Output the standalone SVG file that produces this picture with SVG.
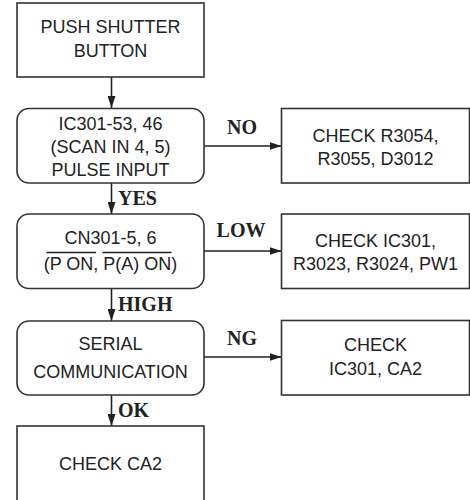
<svg xmlns="http://www.w3.org/2000/svg" width="470" height="500" viewBox="0 0 470 500">
<defs>
<style>
.box{fill:#fff;stroke:#333;stroke-width:1.6}
.t{font-family:"Liberation Sans",Arial,sans-serif;font-size:18px;fill:#222;text-anchor:middle}
.lbl{font-family:"Liberation Serif","Times New Roman",serif;font-size:20px;font-weight:bold;fill:#222}
.c{stroke:#222;stroke-width:1.6;fill:none}
.ol{stroke:#222;stroke-width:1.3}
</style>
<marker id="ah" viewBox="0 0 12 8" refX="12" refY="4" markerWidth="12" markerHeight="8" markerUnits="userSpaceOnUse" orient="auto">
<path d="M0,0 L12,4 L0,8 Z" fill="#222"/>
</marker>
</defs>
<rect width="470" height="500" fill="#fff"/>
<g id="connectors">
<line class="c" x1="111.5" y1="77" x2="111.5" y2="108" marker-end="url(#ah)"/>
<line class="c" x1="111.5" y1="183" x2="111.5" y2="214" marker-end="url(#ah)"/>
<line class="c" x1="111.5" y1="288" x2="111.5" y2="321" marker-end="url(#ah)"/>
<line class="c" x1="111.5" y1="395" x2="111.5" y2="426" marker-end="url(#ah)"/>
<line class="c" x1="204" y1="146" x2="281.5" y2="146" marker-end="url(#ah)"/>
<line class="c" x1="204" y1="251" x2="281.5" y2="251" marker-end="url(#ah)"/>
<line class="c" x1="204" y1="357" x2="281.5" y2="357" marker-end="url(#ah)"/>
<text class="lbl" x="118" y="205">YES</text>
<text class="lbl" x="118" y="311">HIGH</text>
<text class="lbl" x="118" y="417">OK</text>
<text class="lbl" x="242" y="134" text-anchor="middle">NO</text>
<text class="lbl" x="241" y="237" text-anchor="middle">LOW</text>
<text class="lbl" x="242" y="345" text-anchor="middle">NG</text>
</g>
<g id="n1">
<rect class="box" x="17" y="3" width="187" height="74"/>
<text class="t" x="110.5" y="33">PUSH SHUTTER</text>
<text class="t" x="110.5" y="57">BUTTON</text>
</g>
<g id="n2">
<rect class="box" x="17" y="108.5" width="187" height="74.5" rx="12"/>
<text class="t" x="110.5" y="130">IC301-53, 46</text>
<text class="t" x="110.5" y="153">(SCAN IN 4, 5)</text>
<text class="t" x="110.5" y="176">PULSE INPUT</text>
</g>
<g id="n3">
<rect class="box" x="281.5" y="108.5" width="188" height="74.5"/>
<text class="t" x="375.5" y="142">CHECK R3054,</text>
<text class="t" x="375.5" y="165">R3055, D3012</text>
</g>
<g id="n4">
<rect class="box" x="17" y="214" width="187" height="74.5" rx="12"/>
<text class="t" x="110.5" y="243.5">CN301-5, 6</text>
<text class="t" x="110.5" y="270">(P ON, P(A) ON)</text>
<line class="ol" x1="46.5" y1="252.5" x2="96" y2="252.5"/>
<line class="ol" x1="102.5" y1="252.5" x2="171.5" y2="252.5"/>
</g>
<g id="n5">
<rect class="box" x="281.5" y="214" width="188" height="74.5"/>
<text class="t" x="375.5" y="247">CHECK IC301,</text>
<text class="t" x="375.5" y="270">R3023, R3024, PW1</text>
</g>
<g id="n6">
<rect class="box" x="17" y="321" width="187" height="74" rx="12"/>
<text class="t" x="110.5" y="350">SERIAL</text>
<text class="t" x="110.5" y="378">COMMUNICATION</text>
</g>
<g id="n7">
<rect class="box" x="281.5" y="320.5" width="188" height="74.5"/>
<text class="t" x="375.5" y="351">CHECK</text>
<text class="t" x="375.5" y="375">IC301, CA2</text>
</g>
<g id="n8">
<rect class="box" x="17" y="426" width="187" height="80"/>
<text class="t" x="110.5" y="470">CHECK CA2</text>
</g>
</svg>
